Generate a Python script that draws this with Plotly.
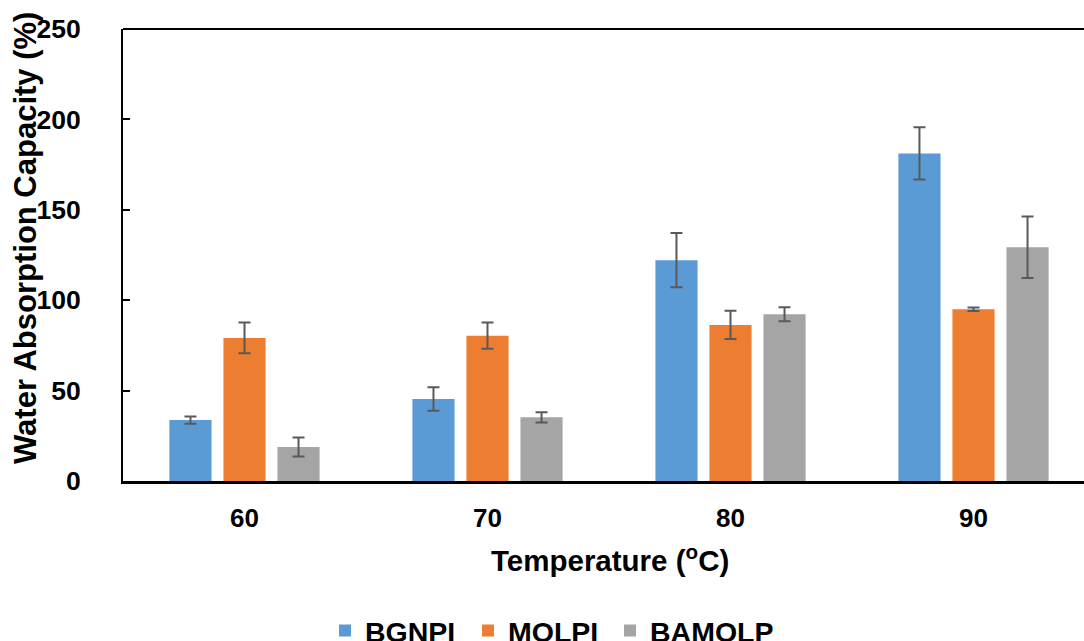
import plotly.graph_objects as go

categories = ["60", "70", "80", "90"]
series_names = ["BGNPI", "MOLPI", "BAMOLP"]
bgnpi = [33.7, 45.4, 122.1, 181.2]
bgnpi_err = [2.0, 6.5, 15.0, 14.5]
molpi = [79.1, 80.4, 86.3, 95.0]
molpi_err = [8.5, 7.2, 7.8, 1.0]
bamolp = [18.8, 35.2, 92.2, 129.3]
bamolp_err = [5.3, 2.8, 3.9, 17.0]
colors = ["#5B9BD5", "#ED7D31", "#A5A5A5"]
y_ticks = [0, 50, 100, 150, 200, 250]

FONT = "Liberation Sans, Arial, sans-serif"

L, R, T, B = 123, 0, 29, 160
W, H = 1084, 641
plot_w = W - L - R
plot_h = H - T - B
cat_px = 243.0
x_hi = -0.5 + plot_w / cat_px

def px_x(p):
    return (p - L) / plot_w

def px_y(p):
    return (H - B - p) / plot_h

legend_ids = ["legend", "legend2", "legend3"]
legend_left_px = [325, 468, 610]

fig = go.Figure()
for name, vals, errs, col, lid in zip(series_names, [bgnpi, molpi, bamolp],
                                      [bgnpi_err, molpi_err, bamolp_err], colors,
                                      legend_ids):
    fig.add_trace(go.Bar(
        x=categories, y=vals, name=name, legend=lid,
        marker=dict(color=col, line=dict(width=0)),
        error_y=dict(type="data", array=errs, visible=True,
                     color="#595959", thickness=2, width=6),
    ))

legend_font = dict(family=FONT, size=28.5, color="black", weight="bold")
legends = {}
for lid, lx in zip(legend_ids, legend_left_px):
    legends[lid] = dict(orientation="h", x=px_x(lx), xanchor="left",
                        y=px_y(631), yanchor="middle", font=legend_font,
                        itemwidth=30, bgcolor="rgba(0,0,0,0)")

fig.update_layout(
    width=W, height=H,
    margin=dict(l=L, r=R, t=T, b=B, autoexpand=False),
    plot_bgcolor="white", paper_bgcolor="white",
    barmode="group", bargap=0.333, bargroupgap=0.22,
    font=dict(family=FONT, size=26, color="black"),
    showlegend=True,
    xaxis=dict(type="category", range=[-0.5, x_hi], showline=True,
               linecolor="black", linewidth=3, ticks="", showgrid=False,
               tickfont=dict(family=FONT, size=26, color="black", weight="bold"),
               ticklabelstandoff=12),
    yaxis=dict(range=[0, 250], tickvals=y_ticks, showline=True,
               linecolor="black", linewidth=2, ticks="inside", ticklen=7,
               tickcolor="black", tickwidth=1.5, showgrid=False, zeroline=False,
               tickfont=dict(family=FONT, size=26.5, color="black", weight="bold"),
               ticklabelstandoff=35),
    shapes=[dict(type="line", xref="paper", yref="paper", x0=0, x1=1, y0=1, y1=1,
                 line=dict(color="black", width=2))],
    annotations=[
        dict(text="Water Absorption Capacity (%)", xref="paper", yref="paper",
             x=px_x(25), y=px_y(238), xanchor="center", yanchor="middle",
             textangle=-90, showarrow=False,
             font=dict(family=FONT, size=31, color="black", weight="bold")),
        dict(text="Temperature (<sup>o</sup>C)", xref="paper", yref="paper",
             x=px_x(610), y=px_y(558), xanchor="center", yanchor="middle",
             showarrow=False,
             font=dict(family=FONT, size=29.5, color="black", weight="bold")),
    ],
    **legends,
)

fig.write_html("out.html", config={"displayModeBar": False},
               post_script="document.body.style.margin='0px';document.body.style.overflow='hidden';")
